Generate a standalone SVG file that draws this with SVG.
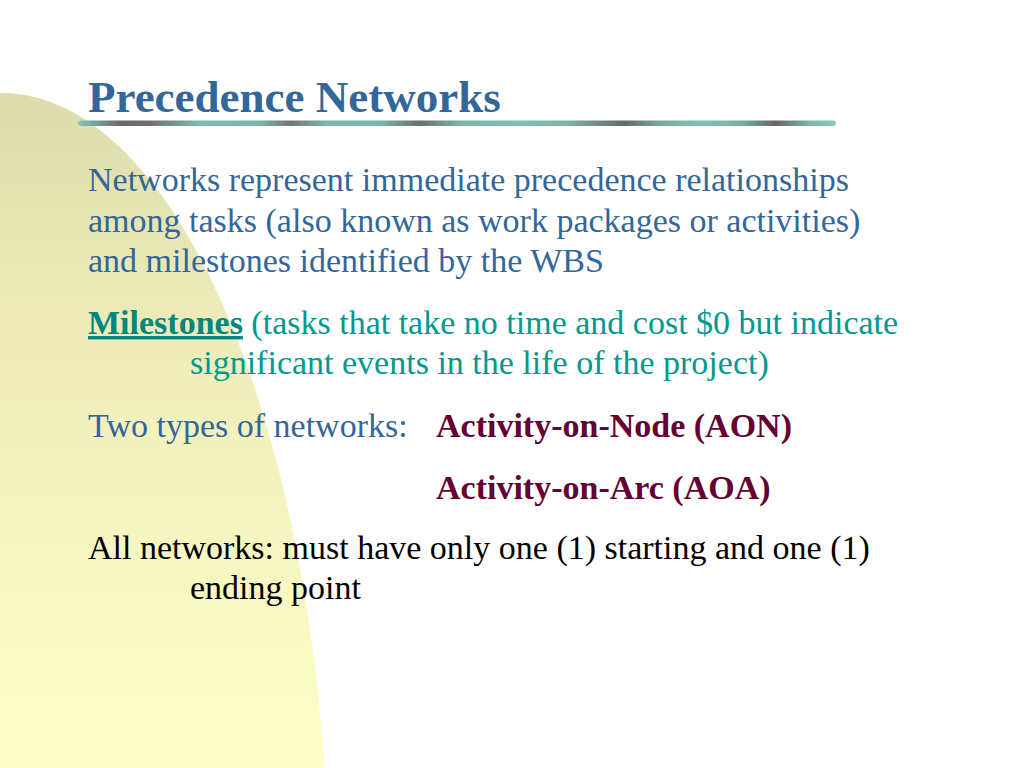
<svg xmlns="http://www.w3.org/2000/svg" width="1024" height="768" viewBox="0 0 1024 768">
<defs>
<linearGradient id="bg" x1="0" y1="93" x2="0" y2="768" gradientUnits="userSpaceOnUse">
<stop offset="0" stop-color="#dddcac"/>
<stop offset="0.45" stop-color="#f1f0bd"/>
<stop offset="1" stop-color="#fefec8"/>
</linearGradient>
<linearGradient id="rule" x1="78" y1="0" x2="836" y2="0" gradientUnits="userSpaceOnUse">
<stop offset="0" stop-color="#8ccabe"/>
<stop offset="0.01" stop-color="#7fb8ae"/>
<stop offset="0.056" stop-color="#6a6a6a"/>
<stop offset="0.095" stop-color="#707070"/>
<stop offset="0.16" stop-color="#7dbcb0"/>
<stop offset="0.24" stop-color="#7ab5aa"/>
<stop offset="0.28" stop-color="#757575"/>
<stop offset="0.33" stop-color="#7ab8ad"/>
<stop offset="0.4" stop-color="#7ab5aa"/>
<stop offset="0.451" stop-color="#6e6e6e"/>
<stop offset="0.504" stop-color="#7ab3a8"/>
<stop offset="0.583" stop-color="#80c0b4"/>
<stop offset="0.649" stop-color="#7fb0a6"/>
<stop offset="0.722" stop-color="#686868"/>
<stop offset="0.768" stop-color="#7aa8a0"/>
<stop offset="0.82" stop-color="#82c2b6"/>
<stop offset="0.873" stop-color="#7ab0a6"/>
<stop offset="0.92" stop-color="#666666"/>
<stop offset="0.966" stop-color="#7ab8ac"/>
<stop offset="1" stop-color="#8ccabe"/>
</linearGradient>
</defs>
<style>
.t{font-family:"Liberation Serif","Times New Roman",serif;font-size:34px}
.title{font-family:"Liberation Serif","Times New Roman",serif;font-size:45px;font-weight:bold;fill:#336699}
.blue{fill:#336699}
.teal{fill:#009990}
.mar{fill:#660033;font-weight:bold}
.blk{fill:#000000}
</style>
<rect width="1024" height="768" fill="#ffffff"/>
<ellipse id="backdrop" cx="2" cy="900" rx="327" ry="807" fill="url(#bg)"/>
<g id="title">
<text class="title" x="88" y="112">Precedence Networks</text>
<rect x="78" y="120.5" width="758" height="5.5" rx="2.75" fill="url(#rule)"/>
</g>
<g id="body">
<text class="t blue" x="88" y="191">Networks represent immediate precedence relationships</text>
<text class="t blue" x="88" y="231.5">among tasks (also known as work packages or activities)</text>
<text class="t blue" x="88" y="272">and milestones identified by the WBS</text>
<text class="t teal" x="88" y="334"><tspan font-weight="bold" fill="#00877f" text-decoration="underline">Milestones</tspan> (tasks that take no time and cost $0 but indicate</text>
<text class="t teal" x="190" y="373.5">significant events in the life of the project)</text>
<text class="t blue" x="88" y="436.5">Two types of networks:</text>
<text class="t mar" x="436" y="436.5">Activity-on-Node (AON)</text>
<text class="t mar" x="436" y="499">Activity-on-Arc (AOA)</text>
<text class="t blk" x="88" y="559">All networks: must have only one (1) starting and one (1)</text>
<text class="t blk" x="190" y="599">ending point</text>
</g>
</svg>
